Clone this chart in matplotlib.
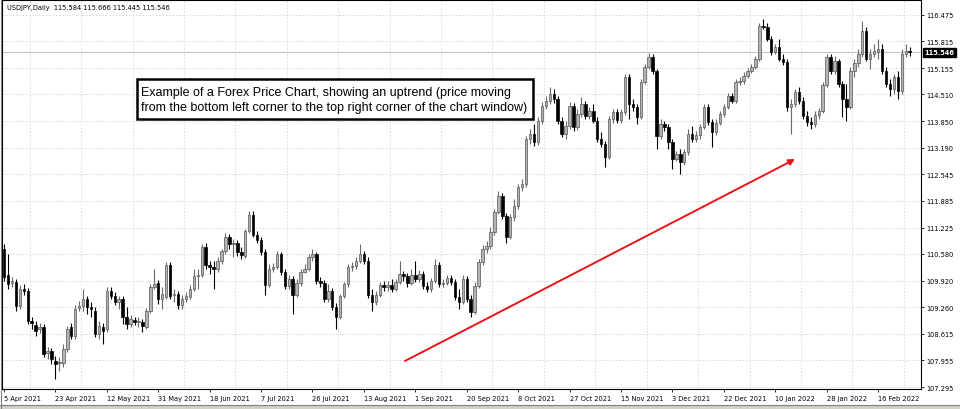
import numpy as np
import matplotlib.pyplot as plt
from matplotlib.patches import Rectangle

# Velas diarias USDJPY (abril 2021 - febrero 2022)
aperturas = [110.70, 110.06, 109.86, 109.88, 109.29, 109.71, 109.66, 108.92, 108.82, 108.73,
             108.78, 108.13, 108.18, 107.94, 107.89, 107.89, 108.23, 108.78, 108.55, 109.24,
             109.29, 109.47, 109.27, 109.17, 108.60, 108.78, 108.73, 109.66, 109.54, 109.39,
             109.47, 109.02, 108.85, 108.95, 108.90, 108.90, 108.78, 109.17, 109.76, 109.86,
             109.47, 109.51, 110.30, 109.56, 109.59, 109.32, 109.47, 109.51, 109.71, 110.03,
             110.06, 110.75, 110.30, 110.25, 110.21, 110.40, 110.65, 110.99, 110.82, 110.85,
             110.62, 110.53, 111.14, 111.54, 111.04, 110.92, 110.62, 109.81, 110.21, 110.25,
             110.57, 110.13, 109.79, 109.96, 109.56, 109.86, 110.13, 110.21, 110.50, 110.57,
             109.91, 109.86, 109.47, 109.66, 109.27, 109.02, 109.54, 109.84, 110.25, 110.28,
             110.40, 110.57, 110.40, 109.56, 109.39, 109.56, 109.81, 109.76, 109.81, 109.71,
             109.88, 110.08, 110.03, 109.86, 110.06, 109.96, 110.08, 109.79, 109.71, 109.91,
             110.30, 109.84, 109.86, 109.98, 109.88, 109.51, 109.39, 109.96, 109.47, 109.15,
             109.79, 110.38, 110.70, 110.77, 111.12, 111.61, 112.00, 111.51, 110.99, 111.49,
             111.76, 112.23, 112.30, 113.41, 113.53, 113.34, 113.85, 114.22, 114.35, 114.52,
             114.40, 113.85, 113.53, 113.73, 114.22, 113.71, 114.03, 114.27, 113.98, 114.10,
             113.85, 113.41, 113.29, 112.97, 113.90, 114.08, 113.88, 114.08, 114.94, 114.27,
             114.20, 113.95, 114.82, 115.19, 115.43, 115.09, 113.48, 113.78, 113.71, 113.34,
             112.92, 113.04, 112.84, 113.09, 113.53, 113.41, 113.51, 113.71, 114.20, 113.83,
             113.58, 113.80, 114.03, 114.20, 114.47, 114.35, 114.82, 114.84, 114.96, 115.09,
             115.19, 115.38, 116.20, 116.17, 115.88, 115.56, 115.68, 115.38, 115.31, 114.20,
             114.27, 114.57, 114.35, 113.98, 113.83, 113.78, 114.00, 114.10, 114.74, 115.43,
             115.09, 115.33, 114.77, 114.40, 114.20, 115.09, 115.28, 115.51, 116.07, 115.38,
             115.51, 115.56, 115.63, 115.09, 114.77, 114.64, 114.94, 114.59, 115.51, 115.584]

maximos = [110.82, 110.57, 110.01, 109.96, 109.81, 109.84, 109.74, 109.02, 108.92, 108.87,
           108.85, 108.28, 108.26, 108.06, 108.04, 108.36, 108.80, 108.87, 109.32, 109.42,
           109.71, 109.54, 109.39, 109.27, 108.92, 108.87, 109.76, 109.76, 109.64, 109.54,
           109.54, 109.27, 109.07, 109.02, 109.02, 108.97, 109.24, 109.84, 110.21, 109.93,
           109.76, 110.38, 110.38, 109.71, 109.66, 109.56, 109.64, 109.81, 110.21, 110.21,
           110.82, 110.85, 110.40, 110.40, 110.50, 110.70, 111.09, 111.07, 110.94, 110.92,
           110.75, 111.19, 111.64, 111.64, 111.14, 110.99, 110.70, 110.33, 110.35, 110.65,
           110.62, 110.21, 110.06, 110.03, 109.96, 110.21, 110.33, 110.57, 110.70, 110.62,
           110.01, 109.93, 109.84, 109.74, 109.37, 109.59, 109.88, 110.33, 110.38, 110.50,
           110.82, 110.65, 110.50, 109.71, 109.66, 109.88, 109.91, 109.91, 109.96, 109.96,
           110.40, 110.16, 110.11, 110.21, 110.40, 110.18, 110.16, 109.88, 109.98, 110.45,
           110.38, 109.96, 110.06, 110.06, 109.96, 109.71, 110.06, 110.03, 109.56, 109.88,
           110.45, 110.80, 110.90, 111.24, 111.69, 112.13, 112.08, 111.59, 111.56, 111.93,
           112.30, 112.42, 113.48, 113.66, 113.78, 113.95, 114.32, 114.47, 114.69, 114.64,
           114.47, 113.95, 113.85, 114.32, 114.30, 114.15, 114.45, 114.35, 114.20, 114.27,
           113.95, 113.58, 113.36, 113.98, 114.15, 114.15, 114.15, 115.01, 115.01, 114.40,
           114.27, 114.89, 115.26, 115.53, 115.51, 115.14, 113.90, 113.85, 113.78, 113.41,
           113.11, 113.16, 113.16, 113.66, 113.73, 113.61, 113.78, 114.27, 114.27, 113.90,
           113.90, 114.10, 114.27, 114.54, 114.54, 114.89, 114.94, 115.06, 115.16, 115.26,
           115.46, 116.27, 116.37, 116.27, 115.95, 115.75, 115.88, 115.51, 115.38, 114.40,
           114.64, 114.69, 114.45, 114.10, 113.95, 114.10, 114.18, 114.82, 115.51, 115.51,
           115.46, 115.38, 114.84, 114.77, 115.19, 115.38, 115.63, 116.32, 116.17, 115.63,
           115.75, 115.88, 115.75, 115.19, 114.89, 115.01, 115.09, 115.63, 115.75, 115.666]

minimos = [109.91, 109.71, 109.76, 109.17, 109.22, 109.56, 108.85, 108.73, 108.55, 108.63,
           108.04, 107.99, 107.86, 107.49, 107.69, 107.79, 108.16, 108.47, 108.48, 109.17,
           109.17, 109.10, 109.02, 108.53, 108.48, 108.36, 108.65, 109.47, 109.32, 109.22,
           108.85, 108.73, 108.78, 108.82, 108.78, 108.65, 108.73, 109.12, 109.71, 109.34,
           109.22, 109.47, 109.47, 109.39, 109.22, 109.22, 109.39, 109.47, 109.66, 109.71,
           110.01, 110.21, 110.08, 109.71, 110.13, 110.33, 110.57, 110.70, 110.50, 110.53,
           110.45, 110.48, 111.09, 110.99, 110.85, 110.55, 109.56, 109.76, 110.13, 110.21,
           110.06, 109.71, 109.71, 109.10, 109.51, 109.79, 110.11, 110.16, 110.40, 109.84,
           109.76, 109.39, 109.39, 109.19, 108.73, 108.97, 109.49, 109.76, 110.16, 110.21,
           110.35, 110.33, 109.49, 109.17, 109.32, 109.51, 109.66, 109.66, 109.64, 109.66,
           109.84, 109.91, 109.76, 109.81, 109.88, 109.88, 109.71, 109.64, 109.64, 109.86,
           109.76, 109.76, 109.81, 109.81, 109.44, 109.22, 109.34, 109.39, 109.02, 109.10,
           109.74, 110.30, 110.60, 110.70, 111.04, 111.56, 111.44, 110.85, 110.94, 111.39,
           111.69, 112.13, 112.23, 113.29, 113.24, 113.26, 113.78, 114.15, 114.27, 114.30,
           113.78, 113.46, 113.41, 113.66, 113.61, 113.63, 113.95, 113.90, 113.90, 113.80,
           113.34, 113.21, 112.72, 112.92, 113.80, 113.80, 113.80, 114.00, 113.90, 114.10,
           113.78, 113.90, 114.77, 115.14, 115.01, 113.16, 113.41, 113.61, 113.16, 112.67,
           112.87, 112.55, 112.77, 113.02, 113.34, 113.34, 113.41, 113.66, 113.76, 113.21,
           113.51, 113.76, 113.95, 114.15, 114.30, 114.30, 114.74, 114.77, 114.91, 115.04,
           115.14, 115.33, 116.12, 115.83, 115.48, 115.51, 115.33, 115.23, 114.10, 113.53,
           114.20, 114.27, 113.90, 113.73, 113.66, 113.71, 113.90, 114.05, 114.69, 115.01,
           115.01, 114.69, 113.95, 113.85, 114.15, 114.94, 115.19, 115.43, 115.33, 115.14,
           115.43, 115.38, 115.01, 114.69, 114.47, 114.52, 114.40, 114.52, 115.43, 115.445]

cierres = [110.01, 109.84, 109.91, 109.29, 109.71, 109.66, 108.92, 108.87, 108.68, 108.78,
           108.11, 108.18, 107.99, 107.86, 107.91, 108.23, 108.73, 108.55, 109.22, 109.29,
           109.47, 109.27, 109.22, 108.60, 108.80, 108.68, 109.66, 109.54, 109.39, 109.47,
           109.02, 108.85, 108.97, 108.90, 108.92, 108.80, 109.17, 109.76, 109.84, 109.47,
           109.59, 110.30, 109.54, 109.59, 109.32, 109.47, 109.54, 109.71, 110.03, 110.06,
           110.75, 110.30, 110.25, 110.21, 110.40, 110.65, 110.99, 110.82, 110.85, 110.62,
           110.55, 111.14, 111.54, 111.04, 110.92, 110.62, 109.81, 110.21, 110.25, 110.57,
           110.13, 109.79, 109.96, 109.56, 109.86, 110.13, 110.21, 110.50, 110.57, 109.91,
           109.86, 109.47, 109.66, 109.27, 109.02, 109.54, 109.84, 110.25, 110.28, 110.40,
           110.57, 110.40, 109.56, 109.39, 109.56, 109.81, 109.76, 109.81, 109.71, 109.88,
           110.08, 110.03, 109.86, 110.06, 109.96, 110.08, 109.79, 109.71, 109.91, 110.30,
           109.84, 109.86, 109.98, 109.88, 109.51, 109.39, 109.96, 109.47, 109.15, 109.79,
           110.38, 110.70, 110.77, 111.12, 111.61, 112.00, 111.51, 110.99, 111.49, 111.76,
           112.23, 112.30, 113.41, 113.53, 113.34, 113.85, 114.22, 114.35, 114.52, 114.40,
           113.85, 113.53, 113.73, 114.22, 113.71, 114.03, 114.27, 113.98, 114.10, 113.85,
           113.41, 113.29, 112.97, 113.90, 114.08, 113.88, 114.08, 114.94, 114.27, 114.20,
           113.95, 114.82, 115.19, 115.43, 115.09, 113.48, 113.78, 113.71, 113.34, 112.92,
           113.04, 112.84, 113.09, 113.53, 113.41, 113.51, 113.71, 114.20, 113.83, 113.58,
           113.80, 114.03, 114.20, 114.47, 114.35, 114.82, 114.84, 114.96, 115.09, 115.19,
           115.38, 116.20, 116.17, 115.88, 115.56, 115.68, 115.38, 115.31, 114.20, 114.27,
           114.57, 114.35, 113.98, 113.83, 113.78, 114.00, 114.10, 114.74, 115.43, 115.09,
           115.33, 114.77, 114.40, 114.20, 115.09, 115.28, 115.51, 116.07, 115.38, 115.51,
           115.58, 115.63, 115.09, 114.77, 114.64, 114.94, 114.59, 115.51, 115.58, 115.546]

# Etiquetas del eje de tiempo (una cada 13 velas)
fechas = ['5 Apr 2021', '23 Apr 2021', '12 May 2021', '31 May 2021', '18 Jun 2021',
          '7 Jul 2021', '26 Jul 2021', '13 Aug 2021', '1 Sep 2021', '20 Sep 2021',
          '8 Oct 2021', '27 Oct 2021', '15 Nov 2021', '3 Dec 2021', '22 Dec 2021',
          '10 Jan 2022', '28 Jan 2022', '16 Feb 2022']
paso_fechas = 13

# Etiquetas del eje de precios
precios = ['107.295', '107.955', '108.615', '109.260', '109.920', '110.580', '111.225',
           '111.885', '112.545', '113.190', '113.850', '114.510', '115.155', '115.815',
           '116.475']

simbolo = 'USDJPY,Daily'
precio_actual = 115.546

texto = ('Example of a Forex Price Chart, showing an uptrend (price moving\n'
         'from the bottom left corner to the top right corner of the chart window)')

o = np.array(aperturas)
h = np.array(maximos)
l = np.array(minimos)
c = np.array(cierres)
x = np.arange(len(c))
sube = c >= o

fig = plt.figure(figsize=(9.6, 4.1), dpi=100)
ax = fig.add_axes([2 / 960, 20 / 410, 919 / 960, 389 / 410])

# Rejilla punteada
for v in np.arange(paso_fechas / 2, len(c) + 2, paso_fechas):
    ax.axvline(v, color='#d6d6d6', lw=0.6, ls=(0, (2, 2)), zorder=0)
for p in precios:
    ax.axhline(float(p), color='#d6d6d6', lw=0.6, ls=(0, (2, 2)), zorder=0)

# Linea del precio actual
ax.axhline(precio_actual, color='#c4c4c4', lw=0.8, zorder=1)

# Mechas
ax.vlines(x[sube], l[sube], h[sube], color='#6a6a6a', lw=0.8, zorder=2)
ax.vlines(x[~sube], l[~sube], h[~sube], color='black', lw=0.8, zorder=2)

# Cuerpos
alto = np.maximum(np.abs(c - o), 0.012)
ax.bar(x[sube], alto[sube], bottom=o[sube], width=0.62, color='#b4b4b4',
       edgecolor='#555555', lw=0.5, zorder=3)
ax.bar(x[~sube], alto[~sube], bottom=c[~sube], width=0.62, color='black',
       edgecolor='black', lw=0.5, zorder=3)

ax.set_xlim(-0.51, 231.86)
ax.set_ylim(107.247, 116.837)

# Ejes
ax.set_xticks(np.arange(len(fechas)) * paso_fechas)
ax.set_xticklabels(fechas, fontsize=4.8, ha='left')
ax.yaxis.tick_right()
ax.set_yticks([float(p) for p in precios])
ax.set_yticklabels(precios, fontsize=4.8)
ax.tick_params(axis='x', length=2.5, width=0.6, pad=1.5)
ax.tick_params(axis='y', length=2.5, width=0.6, pad=1.5)
for s in ax.spines.values():
    s.set_linewidth(0.8)
    s.set_color('black')

# Encabezado
ohlc = ' '.join('%.3f' % v for v in [aperturas[-1], maximos[-1], minimos[-1], cierres[-1]])
ax.text(0.005, 0.982, simbolo + '  ' + ohlc, transform=ax.transAxes, fontsize=4.8,
        va='center', ha='left')

# Etiqueta del precio actual
ax.text(1.004, precio_actual, '%.3f' % precio_actual, transform=ax.get_yaxis_transform(),
        fontsize=4.8, color='white', va='center', ha='left', fontweight='bold',
        bbox=dict(boxstyle='square,pad=0.25', fc='black', ec='black'), clip_on=False)

# Recuadro de texto
ax.add_patch(Rectangle((0.1466, 0.694), 0.4312, 0.103, transform=ax.transAxes,
                       fc='white', ec='black', lw=1.8, zorder=5))
ax.text(0.151, 0.744, texto, transform=ax.transAxes, fontsize=9.0,
        family='Liberation Sans', va='center', ha='left', linespacing=1.3, zorder=6)

# Flecha roja
ax.annotate('', xy=(0.863, 0.591), xytext=(0.4385, 0.072), xycoords='axes fraction',
            arrowprops=dict(arrowstyle='-|>', color='#e8141a', lw=1.4, mutation_scale=9,
                            shrinkA=0, shrinkB=0), zorder=6)

# Borde de la ventana
fig.patches.append(Rectangle((0, 0), 1, 4 / 410, transform=fig.transFigure,
                             fc='#d4d0c8', ec='none'))
fig.lines.append(plt.Line2D([0, 1], [4 / 410, 4 / 410], transform=fig.transFigure,
                            color='#808080', lw=0.8))
fig.lines.append(plt.Line2D([0.5 / 960, 0.5 / 960], [0, 1], transform=fig.transFigure,
                            color='#808080', lw=0.8))

fig.savefig('out.png', dpi=100)
